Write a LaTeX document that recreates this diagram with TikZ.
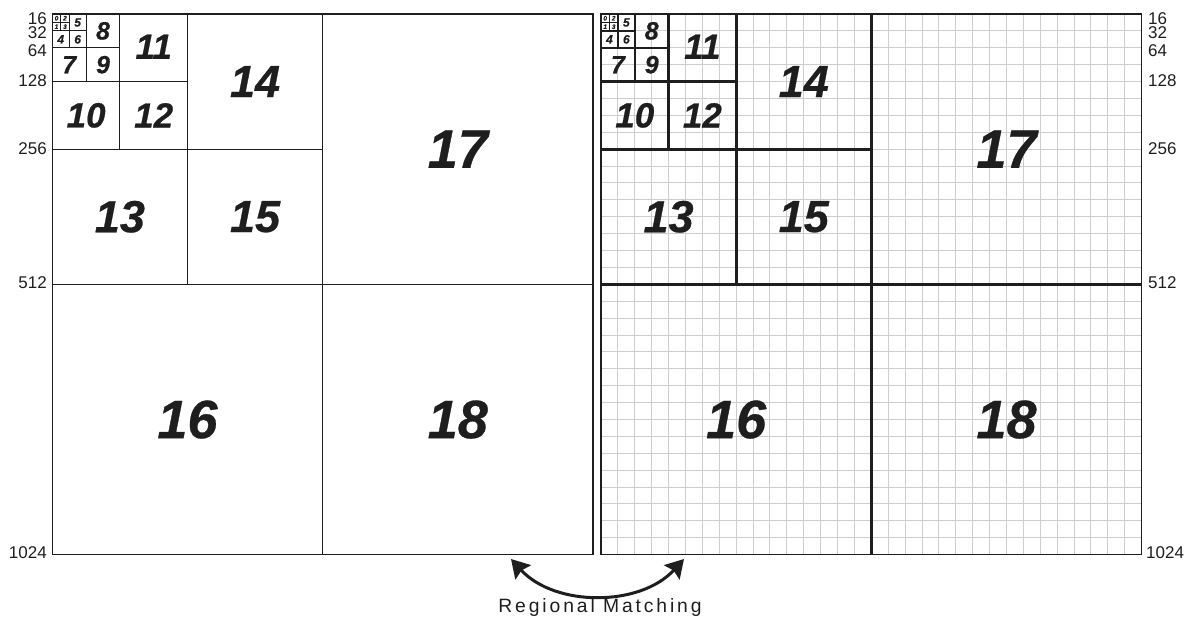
\documentclass[tikz,border=0pt]{standalone}
\usepackage{fontspec}
\setmainfont{Liberation Sans}
\usetikzlibrary{arrows.meta}
\definecolor{ink}{RGB}{30,30,30}
\definecolor{gridgray}{RGB}{205,205,205}
\tikzset{
  numlbl/.style={font=\bfseries\itshape\addfontfeature{FakeBold=0.6}\fontsize{#1}{#1}\selectfont, inner sep=0pt, text=ink},
  axlbl/.style={font=\fontsize{17}{17}\selectfont, inner sep=0pt, text=ink},
  thinln/.style={draw=ink, line width=1pt},
  thickln/.style={draw=ink, line width=#1},
  bigtip/.tip={Stealth[length=18pt,width=21pt,inset=2.5pt]},
}
\newcommand\cellnums[1]{%
  \node[numlbl=6.5] (#1n0) at (8,8) {0};
  \node[numlbl=6.5] (#1n2) at (24,8) {2};
  \node[numlbl=6.5] (#1n1) at (8,24) {1};
  \node[numlbl=6.5] (#1n3) at (24,24) {3};
  \node[numlbl=12] (#1n5) at (48,16) {5};
  \node[numlbl=12] (#1n4) at (16,48) {4};
  \node[numlbl=12] (#1n6) at (48,48) {6};
  \node[numlbl=25] (#1n8) at (96,32) {8};
  \node[numlbl=25] (#1n7) at (32,96) {7};
  \node[numlbl=25] (#1n9) at (96,96) {9};
  \node[numlbl=35] (#1n11) at (192,62) {11};
  \node[numlbl=35] (#1n10) at (64,192) {10};
  \node[numlbl=35] (#1n12) at (192,192) {12};
  \node[numlbl=45] (#1n14) at (384,128) {14};
  \node[numlbl=45] (#1n13) at (128,384) {13};
  \node[numlbl=45] (#1n15) at (384,384) {15};
  \node[numlbl=54] (#1n17) at (768,256) {17};
  \node[numlbl=54] (#1n16) at (256,768) {16};
  \node[numlbl=54] (#1n18) at (768,768) {18};
}
\begin{document}
\begin{tikzpicture}[x=1pt,y=-1pt]
\useasboundingbox (0,0) rectangle (1188,625);
% ---------- left panel ----------
\begin{scope}[shift={(52.3,14)}, x=0.528pt, y=-0.528pt]
  \draw[thinln] (512,0) -- (512,1024);
  \draw[thinln] (0,512) -- (1024,512);
  \draw[thinln] (256,0) -- (256,512);
  \draw[thinln] (0,256) -- (512,256);
  \draw[thinln] (128,0) -- (128,256);
  \draw[thinln] (0,128) -- (256,128);
  \draw[thinln] (64,0) -- (64,128);
  \draw[thinln] (0,64) -- (128,64);
  \draw[thinln] (32,0) -- (32,64);
  \draw[thinln] (0,32) -- (64,32);
  \draw[thinln, line width=0.7pt] (16,0) -- (16,32);
  \draw[thinln, line width=0.7pt] (0,16) -- (32,16);
  \draw[draw=ink, line width=1.2pt] (0,0) rectangle (1024,1024);
  \cellnums{L}
\end{scope}
% ---------- right panel ----------
\begin{scope}[shift={(601,14)}, x=0.528pt, y=-0.528pt]
  \foreach \i in {32,64,...,992} {
    \draw[gridgray, line width=1pt] (\i,0) -- (\i,1024);
    \draw[gridgray, line width=1pt] (0,\i) -- (1024,\i);
  }
  \draw[thickln=3.3pt] (512,0) -- (512,1024);
  \draw[thickln=3.3pt] (0,512) -- (1024,512);
  \draw[thickln=3pt] (256,0) -- (256,512);
  \draw[thickln=3pt] (0,256) -- (512,256);
  \draw[thickln=2.8pt] (128,0) -- (128,256);
  \draw[thickln=2.8pt] (0,128) -- (256,128);
  \draw[thickln=2.5pt] (64,0) -- (64,128);
  \draw[thickln=2.5pt] (0,64) -- (128,64);
  \draw[thickln=2pt] (32,0) -- (32,64);
  \draw[thickln=2pt] (0,32) -- (64,32);
  \draw[thickln=1.5pt] (16,0) -- (16,32);
  \draw[thickln=1.5pt] (0,16) -- (32,16);
  \draw[draw=ink, line width=1.3pt] (0,0) rectangle (1024,1024);
  \cellnums{R}
\end{scope}
% ---------- axis labels ----------
\node[axlbl, anchor=east] (l16) at (47,18.6) {16};
\node[axlbl, anchor=east] (l32) at (47,32.4) {32};
\node[axlbl, anchor=east] (l64) at (47,51) {64};
\node[axlbl, anchor=east] (l128) at (47,81) {128};
\node[axlbl, anchor=east] (l256) at (47,148.5) {256};
\node[axlbl, anchor=east] (l512) at (47,283) {512};
\node[axlbl, anchor=east] (l1024) at (47,553) {1024};
\node[axlbl, anchor=west] (r16) at (1148,18.6) {16};
\node[axlbl, anchor=west] (r32) at (1148,32.4) {32};
\node[axlbl, anchor=west] (r64) at (1148,51) {64};
\node[axlbl, anchor=west] (r128) at (1148,81) {128};
\node[axlbl, anchor=west] (r256) at (1148,148.5) {256};
\node[axlbl, anchor=west] (r512) at (1148,283) {512};
\node[axlbl, anchor=west] (r1024) at (1146,553) {1024};
% ---------- regional matching arrow ----------
\coordinate (arrL) at (511,559);
\coordinate (arrR) at (684,559);
\draw[draw=ink, line width=3pt, {bigtip}-{bigtip}]
  (arrL) .. controls (555,607) and (640,607) .. (arrR);
\node[font=\addfontfeature{LetterSpace=15}\fontsize{19.3}{19.3}\selectfont, text=ink, inner sep=0pt] (cap) at (600,607) {Regional Matching};
\end{tikzpicture}
\end{document}
